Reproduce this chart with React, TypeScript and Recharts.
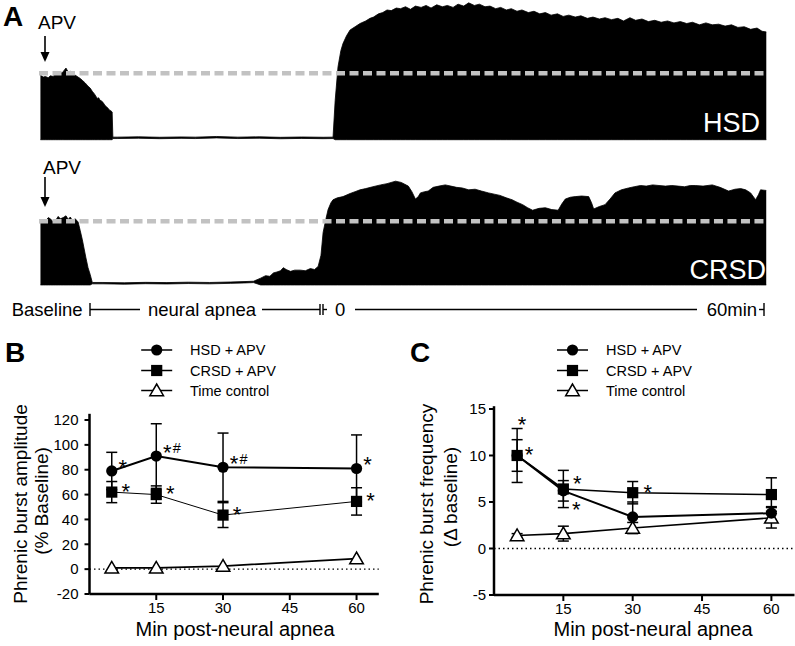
import { Area, AreaChart, ErrorBar, Line, LineChart, ReferenceLine, XAxis, YAxis } from 'recharts'

const FONT = '"Liberation Sans", Arial, Helvetica, sans-serif'

// ---- panel A: integrated phrenic traces, amplitude in % of baseline burst, time in min after apnea ----
const hsdTraceTime = [
  -41.8, -41.4, -41.1, -40.7, -40.4, -40.0, -39.7, -39.3, -39.0, -38.7, -38.5, -38.2, -37.9, -37.6, -37.3,
  -36.9, -36.5, -36.2, -35.9, -35.5, -35.1, -34.8, -34.5, -34.2, -33.8, -33.6, -33.4, -33.2, -33.0, -32.7,
  -32.5, -32.3, -32.1, -31.9, -31.7, -31.6,
  -31.0, -28.0, -25.0, -22.0, -20.0, -17.0, -14.0, -11.0, -8.0, -5.0, -2.0, -0.6,
  -0.3, 0.1, 0.5, 0.8, 1.3, 1.8, 2.5, 3.2, 4.0, 4.6, 5.1, 5.8, 6.4, 7.0, 7.6, 8.3, 8.9, 9.6, 10.3, 11.0,
  11.8, 12.5, 13.2, 14.0, 14.8, 15.5, 16.3, 17.0, 17.8, 18.5, 19.3, 20.0, 20.8, 21.5, 22.3, 23.0, 23.8, 24.5,
  25.3, 26.0, 26.9, 27.7, 28.5, 29.3, 30.1, 31.0, 31.8, 32.6, 33.5, 34.3, 35.2, 36.0, 36.9, 37.7, 38.6, 39.5,
  40.3, 41.2, 42.0, 42.9, 43.8, 44.7, 45.6, 46.5, 47.4, 48.3, 49.2, 50.0, 51.0, 51.9, 52.8, 53.7, 54.6, 55.5,
  56.4, 57.3, 58.2, 59.1, 59.8, 60.4
]
const hsdTraceTop = [
  97, 94, 95, 93, 96, 95, 99, 98, 100, 101, 104, 108, 102, 103, 101,
  97, 94, 92, 89, 85, 80, 77, 72, 68, 61, 62, 58, 57, 55, 50,
  48, 46, 43, 42, 40, 1,
  1, 1.5, 0.8, 1.3, 1, 2, 1, 1.5, 0.7, 1.2, 0.8, 1,
  58, 110, 135, 146, 158, 167, 172, 177, 181, 185, 187, 192, 194, 198, 197, 201, 200, 203, 199, 204,
  202, 205, 201, 206, 203, 205, 202, 207, 204, 209, 205, 207, 203, 204, 200, 202, 198, 200,
  196, 198, 194, 196, 192, 194, 190, 192, 188, 190, 187, 189, 185, 187, 184, 186, 183, 185,
  181, 186, 182, 184, 180, 182, 179, 181, 178, 180, 177, 179, 175, 178, 175, 176, 173, 175,
  171, 172, 168, 170, 165, 164
]

const crsdTraceTime = [
  -41.8, -41.4, -41.1, -40.7, -40.4, -40.0, -39.7, -39.3, -39.0, -38.6, -38.2, -37.9, -37.6, -37.3, -36.9,
  -36.5, -36.2, -35.9, -35.4, -35.1, -34.8, -34.5,
  -33.0, -30.0, -27.0, -24.0, -21.0, -18.0, -15.0, -13.0, -11.8, -10.8, -10.1, -9.5, -9.0, -8.5, -8.0,
  -7.6, -7.2, -6.6, -6.0, -5.2, -4.5, -3.8, -3.2, -2.7, -2.3, -2.0, -1.6, -1.3, -0.9, -0.6,
  0.0, 0.8, 1.8, 2.5, 3.2, 4.0, 5.0, 6.1, 7.0, 8.2, 9.0, 10.0, 10.5, 11.0, 11.4, 11.7, 12.3, 12.8, 13.5,
  14.3, 15.2, 16.0, 16.8, 17.6, 18.5, 19.4, 20.3, 21.3, 22.1, 22.9, 23.8, 24.6, 25.3, 26.1, 26.8, 27.5,
  28.4, 29.3, 30.2, 31.1, 31.6, 32.1, 32.8, 33.5, 34.4, 35.4, 35.8, 36.1, 36.9, 37.7, 38.4, 39.1, 40.0,
  41.0, 41.8, 42.7, 43.5, 44.4, 45.3, 46.2, 47.1, 48.0, 48.9, 49.7, 50.4, 51.5, 52.8, 53.9, 55.1, 56.0,
  56.8, 57.5, 58.2, 58.9, 59.3, 59.6, 60.4
]
const crsdTraceTop = [
  97, 103, 100, 106, 104, 99, 101, 108, 104, 106, 109, 103, 107, 101, 104,
  99, 85, 70, 41, 25, 14, 1,
  1, 0.5, 1.2, 0.8, 1.5, 1, 1.8, 2.5, 3, 8, 12, 11, 16.5, 18, 20,
  25, 22, 19, 21, 21, 20, 23.5, 22, 27, 45, 82, 104, 119, 130, 135,
  138, 140, 145, 148, 151, 153, 156, 159, 161, 165, 163, 157, 148, 136, 140, 146, 148, 149, 155,
  157, 159, 157, 155, 154, 151, 152, 149, 146, 144, 142, 138, 135, 131, 127, 122, 118,
  121, 122, 119, 118, 128, 136, 139, 140, 141, 140, 130, 120, 124, 127, 136, 146, 151,
  154, 156, 158, 157, 159, 158, 157, 158, 157, 156, 158, 158, 157, 159, 155, 149, 152,
  153, 151, 146, 135, 143, 151, 150
]

// ---- panels B and C ----
const seriesNames = ['HSD + APV', 'CRSD + APV', 'Time control']
const minutes = [5, 15, 30, 60]
const minuteTicks = [15, 30, 45, 60]

const ampHsd = [79, 91, 82, 81]
const ampHsdErr = [15, 26, 27.5, 27]
const ampHsdSig = ['*', '*#', '*#', '*']
const ampCrsd = [62, 60, 43.5, 54.5]
const ampCrsdErr = [8.5, 7, 10, 11]
const ampCrsdSig = ['*', '*', '*', '*']
const ampTc = [1, 1, 2.5, 8.5]
const ampTicks = [-20, 0, 20, 40, 60, 80, 100, 120]

const freqHsd = [10, 6.2, 3.4, 3.8]
const freqHsdErr = [1.7, 1.1, 1.6, 0.7]
const freqHsdSig = ['*', '*', '', '']
const freqCrsd = [10, 6.4, 6.0, 5.8]
const freqCrsdErr = [2.9, 2.0, 1.2, 1.8]
const freqCrsdSig = ['*', '*', '*', '']
const freqTc = [1.4, 1.6, 2.2, 3.3]
const freqTcErr = [0.2, 0.8, 0.6, 1.1]
const freqTicks = [-5, 0, 5, 10, 15]

const toBand = (times: number[], tops: number[]) =>
  times.map((t, i) => ({ t, band: [tops[i] < 5 ? tops[i] - 2.2 : -3, tops[i]] }))

const hsdTrace = toBand(hsdTraceTime, hsdTraceTop)
const crsdTrace = toBand(crsdTraceTime, crsdTraceTop)

const ampTable = minutes.map((t, i) => ({
  t,
  hsd: ampHsd[i], hsdErr: ampHsdErr[i], hsdSig: ampHsdSig[i],
  crsd: ampCrsd[i], crsdErr: ampCrsdErr[i], crsdSig: ampCrsdSig[i],
  tc: ampTc[i]
}))

const freqTable = minutes.map((t, i) => ({
  t,
  hsd: freqHsd[i], hsdErr: freqHsdErr[i], hsdSig: freqHsdSig[i],
  crsd: freqCrsd[i], crsdErr: freqCrsdErr[i], crsdSig: freqCrsdSig[i],
  tc: freqTc[i], tcErr: freqTcErr[i]
}))

type Shape = 'circle' | 'square' | 'triangle'
const shapes: Shape[] = ['circle', 'square', 'triangle']

function drawMarker(shape: Shape, cx: number, cy: number) {
  if (shape === 'circle') return <circle cx={cx} cy={cy} r={5.6} fill="#000" />
  if (shape === 'square') return <rect x={cx - 5.6} y={cy - 5.6} width={11.2} height={11.2} fill="#000" />
  return (
    <polygon
      points={`${cx},${cy - 6.5} ${cx - 6.8},${cy + 5.2} ${cx + 6.8},${cy + 5.2}`}
      fill="#fff"
      stroke="#000"
      strokeWidth={1.5}
    />
  )
}

// x, y = centre of the asterisk
function drawSig(text: string | undefined, x: number, y: number) {
  if (!text) return null
  return (
    <g fontFamily={FONT} fill="#000">
      <text x={x} y={y + 12.8} fontSize={22} textAnchor="middle">*</text>
      {text.includes('#') && <text x={x + 5.5} y={y + 5.5} fontSize={14.5}>#</text>}
    </g>
  )
}

interface SeriesSpec {
  valueKey: string
  errKey?: string
  sigKey?: string
  shape: Shape
  lineWidth: number
  starOffsets: [number, number][]
}

function makeDot(s: SeriesSpec) {
  return (p: any) => {
    const { cx, cy, index, payload } = p
    if (cx == null || cy == null) return <g key={`${s.valueKey}-${index}`} />
    const off = s.starOffsets[index] ?? s.starOffsets[0] ?? [0, 0]
    return (
      <g key={`${s.valueKey}-${index}`}>
        {drawMarker(s.shape, cx, cy)}
        {s.sigKey ? drawSig(payload?.[s.sigKey], cx + off[0], cy + off[1]) : null}
      </g>
    )
  }
}

interface GroupChartProps {
  width: number
  data: Record<string, unknown>[]
  yDomain: [number, number]
  yTicks: number[]
  yTickMargin: number
  margin: { top: number; right: number; bottom: number; left: number }
  series: SeriesSpec[]
}

function GroupChart({ width, data, yDomain, yTicks, yTickMargin, margin, series }: GroupChartProps) {
  const tickStyle = { fill: '#000', fontSize: 15, fontFamily: FONT }
  return (
    <LineChart width={width} height={235} data={data} margin={margin}>
      <XAxis
        type="number"
        dataKey="t"
        domain={[0, 65]}
        ticks={minuteTicks}
        interval={0}
        allowDataOverflow
        height={30}
        axisLine={{ stroke: '#000', strokeWidth: 2.5 }}
        tickLine={{ stroke: '#000', strokeWidth: 2 }}
        tickSize={6}
        tickMargin={2}
        tick={tickStyle}
      />
      <YAxis
        type="number"
        domain={yDomain}
        ticks={yTicks}
        interval={0}
        allowDataOverflow
        width={50}
        axisLine={{ stroke: '#000', strokeWidth: 2.5 }}
        tickLine={{ stroke: '#000', strokeWidth: 2 }}
        tickSize={5}
        tickMargin={yTickMargin}
        tick={tickStyle}
      />
      <ReferenceLine y={0} stroke="#000" strokeWidth={1.3} strokeDasharray="1.5 3" />
      {series.map((s) => (
        <Line
          key={s.valueKey}
          dataKey={s.valueKey}
          type="linear"
          stroke="#000"
          strokeWidth={s.lineWidth}
          dot={makeDot(s)}
          activeDot={false}
          isAnimationActive={false}
        >
          {s.errKey ? (
            <ErrorBar dataKey={s.errKey} width={5.5} stroke="#000" strokeWidth={1.5} direction="y" />
          ) : null}
        </Line>
      ))}
    </LineChart>
  )
}

function TraceChart({ data, height, yDomain }: { data: { t: number; band: number[] }[]; height: number; yDomain: [number, number] }) {
  return (
    <AreaChart width={728} height={height} data={data} margin={{ top: 0, right: 0, bottom: 0, left: 0 }}>
      <XAxis type="number" dataKey="t" domain={[-42, 60.5]} hide allowDataOverflow />
      <YAxis type="number" domain={yDomain} hide allowDataOverflow />
      <Area
        type="linear"
        dataKey="band"
        stroke="#000"
        strokeWidth={0.8}
        fill="#000"
        fillOpacity={1}
        dot={false}
        activeDot={false}
        isAnimationActive={false}
      />
      <ReferenceLine y={100} stroke="#c2c2c2" strokeWidth={4.5} strokeDasharray="9 4.5" />
    </AreaChart>
  )
}

function Arrow({ x, y1, y2 }: { x: number; y1: number; y2: number }) {
  return (
    <g>
      <line x1={x} x2={x} y1={y1} y2={y2 - 6} stroke="#000" strokeWidth={1.6} />
      <polygon points={`${x - 4.5},${y2 - 10} ${x + 4.5},${y2 - 10} ${x},${y2}`} fill="#000" />
    </g>
  )
}

function LegendBlock({ cx, textX }: { cx: number; textX: number }) {
  const rows = [350, 370.5, 390.5]
  return (
    <g>
      {seriesNames.map((name, i) => (
        <g key={name}>
          <line x1={cx - 15.5} x2={cx + 15.5} y1={rows[i]} y2={rows[i]} stroke="#000" strokeWidth={1.5} />
          {drawMarker(shapes[i], cx, rows[i])}
          <text x={textX} y={rows[i] + 5.2} fontSize={14.5}>{name}</text>
        </g>
      ))}
    </g>
  )
}

function Overlay() {
  const bar = { stroke: '#000', strokeWidth: 1.4 }
  return (
    <svg
      width={795}
      height={646}
      style={{ position: 'absolute', left: 0, top: 0, pointerEvents: 'none' }}
      fontFamily={FONT}
      fill="#000"
    >
      <text x={3} y={26} fontSize={28} fontWeight="bold">A</text>
      <text x={38} y={28.5} fontSize={19}>APV</text>
      <Arrow x={45} y1={36} y2={62} />
      <text x={43} y={173.5} fontSize={19}>APV</text>
      <Arrow x={45} y1={177} y2={207} />
      <text x={760} y={131.5} fontSize={27} fill="#fff" textAnchor="end">HSD</text>
      <text x={766} y={278.5} fontSize={27} fill="#fff" textAnchor="end">CRSD</text>

      <text x={11.7} y={316} fontSize={18.5}>Baseline</text>
      <line x1={90} x2={90} y1={303} y2={316} {...bar} />
      <line x1={90} x2={140} y1={309.5} y2={309.5} {...bar} />
      <text x={148} y={316} fontSize={18.5}>neural apnea</text>
      <line x1={262} x2={320} y1={309.5} y2={309.5} {...bar} />
      <line x1={320} x2={320} y1={304} y2={315} {...bar} />
      <line x1={323} x2={323} y1={304} y2={315} {...bar} />
      <line x1={323} x2={327} y1={309.5} y2={309.5} {...bar} />
      <text x={335} y={316} fontSize={18.5}>0</text>
      <line x1={355} x2={697} y1={309.5} y2={309.5} {...bar} />
      <text x={706.7} y={316} fontSize={18.5}>60min</text>
      <line x1={759} x2={764} y1={309.5} y2={309.5} {...bar} />
      <line x1={764} x2={764} y1={303} y2={316} {...bar} />

      <text x={5} y={362} fontSize={28} fontWeight="bold">B</text>
      <text x={410} y={362} fontSize={28} fontWeight="bold">C</text>
      <LegendBlock cx={156.7} textX={190} />
      <LegendBlock cx={572.5} textX={606} />

      <text transform="translate(20,504) rotate(-90)" textAnchor="middle" dominantBaseline="central" fontSize={19}>
        Phrenic burst amplitude
      </text>
      <text transform="translate(41.5,501) rotate(-90)" textAnchor="middle" dominantBaseline="central" fontSize={19}>
        (% Baseline)
      </text>
      <text transform="translate(426,504) rotate(-90)" textAnchor="middle" dominantBaseline="central" fontSize={19}>
        Phrenic burst frequency
      </text>
      <text transform="translate(450,497) rotate(-90)" textAnchor="middle" dominantBaseline="central" fontSize={19}>
        (Δ baseline)
      </text>
      <text x={235} y={636} textAnchor="middle" fontSize={20}>Min post-neural apnea</text>
      <text x={653} y={636} textAnchor="middle" fontSize={20}>Min post-neural apnea</text>
    </svg>
  )
}

const ampSeries: SeriesSpec[] = [
  { valueKey: 'tc', shape: 'triangle', lineWidth: 1.8, starOffsets: [] },
  { valueKey: 'crsd', errKey: 'crsdErr', sigKey: 'crsdSig', shape: 'square', lineWidth: 1, starOffsets: [[14, -6]] },
  { valueKey: 'hsd', errKey: 'hsdErr', sigKey: 'hsdSig', shape: 'circle', lineWidth: 2, starOffsets: [[11, -9]] }
]

const freqSeries: SeriesSpec[] = [
  { valueKey: 'tc', errKey: 'tcErr', shape: 'triangle', lineWidth: 1.6, starOffsets: [] },
  { valueKey: 'hsd', errKey: 'hsdErr', sigKey: 'hsdSig', shape: 'circle', lineWidth: 2, starOffsets: [[12, -6], [13, 13]] },
  {
    valueKey: 'crsd', errKey: 'crsdErr', sigKey: 'crsdSig', shape: 'square', lineWidth: 1.6,
    starOffsets: [[5, -36], [14, -11], [15, -5]]
  }
]

export default function App() {
  return (
    <div
      style={{
        position: 'fixed', left: 0, top: 0, width: 795, height: 646,
        background: '#fff', overflow: 'hidden', fontFamily: FONT
      }}
    >
      <div style={{ position: 'absolute', left: 39, top: -1 }}>
        <TraceChart data={hsdTrace} height={142} yDomain={[-5, 215]} />
      </div>
      <div style={{ position: 'absolute', left: 39, top: 175.3 }}>
        <TraceChart data={crsdTrace} height={111.2} yDomain={[-5, 175]} />
      </div>
      <div style={{ position: 'absolute', left: 0, top: 400 }}>
        <GroupChart
          width={400}
          data={ampTable}
          yDomain={[-20, 125]}
          yTicks={ampTicks}
          yTickMargin={6}
          margin={{ top: 13.8, right: 21.2, bottom: 11, left: 39.5 }}
          series={ampSeries}
        />
      </div>
      <div style={{ position: 'absolute', left: 400, top: 400 }}>
        <GroupChart
          width={395}
          data={freqTable}
          yDomain={[-5, 15.3]}
          yTicks={freqTicks}
          yTickMargin={3}
          margin={{ top: 6.2, right: 0.5, bottom: 10, left: 44 }}
          series={freqSeries}
        />
      </div>
      <Overlay />
    </div>
  )
}
